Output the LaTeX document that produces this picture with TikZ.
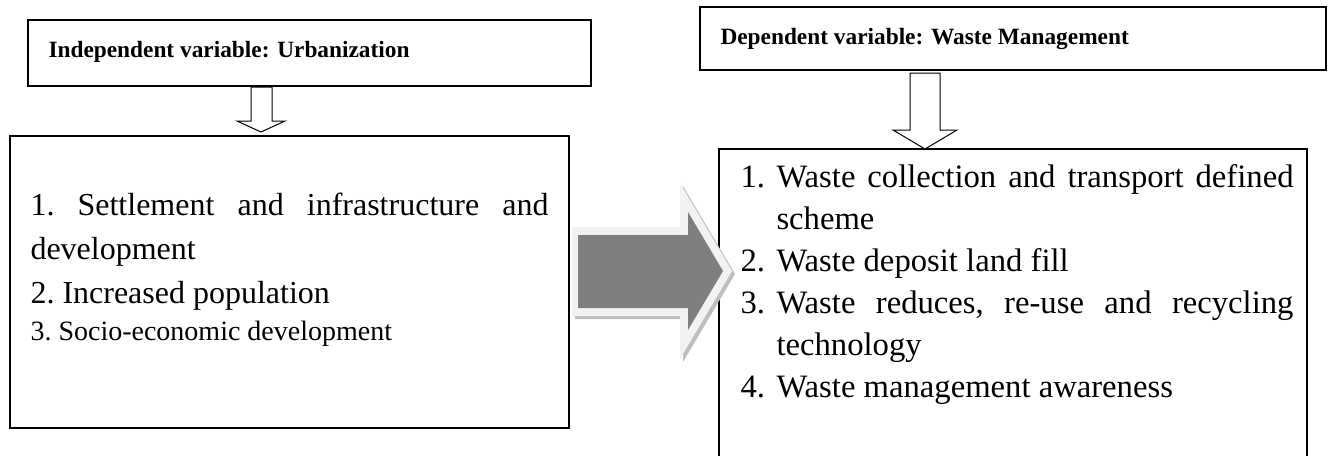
\documentclass[tikz,border=0pt]{standalone}
\usepackage{fontspec}
\setmainfont{Liberation Serif}
\definecolor{arrowfill}{RGB}{127,127,127}
\definecolor{arrowrim}{RGB}{242,242,242}
\definecolor{arrowshade}{RGB}{190,190,190}
\tikzset{every picture/.style={line width=0.75pt}}
\tikzset{
  titletext/.style={anchor=base west,inner sep=0pt,font=\fontsize{17.5}{20}\selectfont\bfseries},
  listtext/.style={anchor=north west,inner sep=0pt,align=justify},
  boxline/.style={line width=1.1pt},
}
\newcommand{\listitem}[1]{\hangindent=27pt\hangafter=1\makebox[27pt][l]{#1}}

\begin{document}
\begin{tikzpicture}[x=0.75pt,y=0.75pt,yscale=-1,xscale=1]
\useasboundingbox (0,0) rectangle (1330,455);

%Shape: Rectangle (independent variable)
\draw [boxline] (28,20) rectangle (591,86) ;
%Shape: Rectangle (dependent variable)
\draw [boxline] (700,7) rectangle (1326,70) ;
%Shape: Rectangle (urbanization factors)
\draw [boxline] (10,136) rectangle (569,428) ;
%Shape: Rectangle (waste management factors)
\draw [boxline] (719,462) -- (719,149) -- (1307,149) -- (1307,462) ;

%Shape: Down Arrow
\draw [fill=white] (251,87) -- (272,87) -- (272,121) -- (285,121) -- (261,132) -- (237,121) -- (251,121) -- cycle ;
%Shape: Down Arrow
\draw [fill=white] (910,73) -- (940,73) -- (940,130) -- (957,130) -- (925,149) -- (893,130) -- (910,130) -- cycle ;

%Shape: Right Arrow (shadow)
\fill [arrowshade] (575,230) -- (683,230) -- (683,186) -- (735,274) -- (683,362) -- (683,319) -- (575,319) -- cycle ;
%Shape: Right Arrow (rim)
\fill [arrowrim] (572,227) -- (680,227) -- (680,183) -- (732,271) -- (680,359) -- (680,316) -- (572,316) -- cycle ;
%Shape: Right Arrow
\fill [arrowfill] (578,235) -- (688,235) -- (688,212) -- (723,271) -- (688,330) -- (688,308) -- (578,308) -- cycle ;

% Text Node
\node (indep) [titletext] at (48,57) {Independent variable: Urbanization};
% Text Node
\node (dep) [titletext] at (720,44) {Dependent variable: Waste Management};
% Text Node
\node (causes) [listtext,text width=388.5pt] at (30,192) {%
\fontsize{24}{33}\selectfont\setlength\parindent{0pt}\frenchspacing\hyphenpenalty=10000\exhyphenpenalty=10000
1. Settlement and infrastructure and development\par
2. Increased population\par
{\fontsize{21}{28}\selectfont 3. Socio-economic development\par}};
% Text Node
\node (effects) [listtext,text width=414.75pt] at (740,164) {%
\fontsize{24.5}{31.5}\selectfont\setlength\parindent{0pt}\frenchspacing\hyphenpenalty=10000\exhyphenpenalty=10000
\listitem{1.}Waste collection and transport defined scheme\par
\listitem{2.}Waste deposit land fill\par
\listitem{3.}Waste reduces, re-use and recycling technology\par
\listitem{4.}Waste management awareness\par};
\end{tikzpicture}
\end{document}
